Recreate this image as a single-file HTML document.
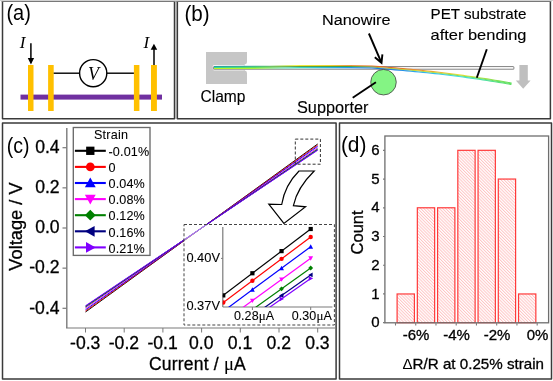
<!DOCTYPE html>
<html><head><meta charset="utf-8"><style>html,body{margin:0;padding:0;background:#fff;overflow:hidden;}svg{display:block;font-family:"Liberation Sans",sans-serif;will-change:transform;}text{stroke:#000;stroke-width:0.3px;}text.it{stroke:none;}text.lb{stroke:#fff;stroke-width:0.2px;}</style></head>
<body><svg width="553" height="381" viewBox="0 0 553 381"><rect x="0" y="0" width="553" height="381" fill="#fff"/>
<rect x="0" y="0" width="553" height="1" fill="#d2d2d2"/>
<rect x="175" y="1" width="2" height="118" fill="#e2e2e2"/>
<path d="M2.5,1 V118.8 H174.5 V1" fill="none" stroke="#3a3a3a" stroke-width="1.5" stroke-linejoin="round"/>
<rect x="1.75" y="1" width="173.5" height="1" fill="#787878"/>
<path d="M177.35,1 V118.8 H550.4 V1" fill="none" stroke="#3a3a3a" stroke-width="1.5" stroke-linejoin="round"/>
<rect x="176.6" y="1" width="374.54999999999995" height="1" fill="#787878"/>
<rect x="2.5" y="122.9" width="333.6" height="256.1" fill="none" stroke="#3a3a3a" stroke-width="1.5" stroke-linejoin="round"/>
<rect x="339.5" y="122.9" width="212.0" height="256.1" fill="none" stroke="#3a3a3a" stroke-width="1.5" stroke-linejoin="round"/>
<text x="6.4" y="19.6" font-family="Liberation Sans, sans-serif" class="it" font-size="22.5" textLength="24.4" lengthAdjust="spacingAndGlyphs" fill="#000">(a)</text>
<rect x="20.5" y="94.6" width="141.5" height="5" fill="#7030a0"/>
<rect x="28" y="65" width="5.5" height="46" fill="#ffc000"/>
<rect x="48.1" y="65" width="5.600000000000001" height="46" fill="#ffc000"/>
<rect x="133.9" y="65" width="5.5" height="46" fill="#ffc000"/>
<rect x="151" y="65" width="5.900000000000006" height="46" fill="#ffc000"/>
<line x1="53.7" y1="73.2" x2="79.5" y2="73.2" stroke="#000" stroke-width="1.4"/>
<line x1="107" y1="73.2" x2="133.9" y2="73.2" stroke="#000" stroke-width="1.4"/>
<circle cx="93.2" cy="73.2" r="13.6" fill="#fff" stroke="#000" stroke-width="1.4"/>
<text x="88" y="80" font-family="Liberation Serif, serif" class="it" font-style="italic" font-size="18" fill="#000">V</text>
<text x="19.8" y="48.2" font-family="Liberation Serif, serif" class="it" font-style="italic" font-size="17" fill="#000">I</text>
<text x="143.6" y="48.2" font-family="Liberation Serif, serif" class="it" font-style="italic" font-size="17" fill="#000">I</text>
<line x1="30.9" y1="43.3" x2="30.9" y2="59" stroke="#000" stroke-width="1.5"/>
<polygon points="27.8,58 34.1,58 30.95,64.6" fill="#000"/>
<line x1="154" y1="49" x2="154" y2="65" stroke="#000" stroke-width="1.5"/>
<polygon points="150.7,49.8 157.2,49.8 153.95,43.8" fill="#000"/>
<text x="184.4" y="20.5" font-family="Liberation Sans, sans-serif" class="it" font-size="22.5" textLength="25.2" lengthAdjust="spacingAndGlyphs" fill="#000">(b)</text>
<path d="M206,52 H247 V62.1 A2.5,2.5 0 0 1 244.6,64.6 V70.6 A2.5,2.5 0 0 1 247,73.1 V84 H206 Z" fill="#c6c6c6"/>
<rect x="212.8" y="64.9" width="32" height="5.6" rx="1.4" fill="#f4f4f4"/>
<rect x="213.4" y="66.4" width="300.6" height="2.9" rx="1.4" fill="#f6f6f6" stroke="#8c8c8c" stroke-width="1.05"/>
<polygon points="519.4,64.9 527.8,64.9 527.8,80.6 530.6,80.6 523.2,88.8 515.8,80.6 519.4,80.6" fill="#bfbfbf"/>
<defs>
<linearGradient id="wt" gradientUnits="userSpaceOnUse" x1="214" y1="0" x2="512" y2="0">
<stop offset="0" stop-color="#2aa0a0"/><stop offset="0.121" stop-color="#40a8a0"/><stop offset="0.174" stop-color="#58c080"/>
<stop offset="0.238" stop-color="#c0e040"/><stop offset="0.275" stop-color="#f0f040"/><stop offset="0.39" stop-color="#f0d030"/>
<stop offset="0.443" stop-color="#f0a040"/><stop offset="0.57" stop-color="#e86020"/><stop offset="0.69" stop-color="#f08830"/>
<stop offset="0.826" stop-color="#f0e030"/><stop offset="1" stop-color="#60e060"/></linearGradient>
<linearGradient id="wm" gradientUnits="userSpaceOnUse" x1="214" y1="0" x2="512" y2="0">
<stop offset="0" stop-color="#30d8a0"/><stop offset="0.121" stop-color="#40e070"/><stop offset="0.174" stop-color="#50e040"/>
<stop offset="0.275" stop-color="#60a040"/><stop offset="0.443" stop-color="#40a040"/><stop offset="0.57" stop-color="#a0c040"/>
<stop offset="0.69" stop-color="#d0e030"/><stop offset="0.826" stop-color="#80e050"/><stop offset="1" stop-color="#60e060"/></linearGradient>
<linearGradient id="wb" gradientUnits="userSpaceOnUse" x1="214" y1="0" x2="512" y2="0">
<stop offset="0" stop-color="#c0f020"/><stop offset="0.121" stop-color="#b0f030"/><stop offset="0.174" stop-color="#a0e870"/>
<stop offset="0.238" stop-color="#60e0c0"/><stop offset="0.275" stop-color="#40e0c0"/><stop offset="0.443" stop-color="#20a0f0"/>
<stop offset="0.57" stop-color="#2070e0"/><stop offset="0.69" stop-color="#30b0f0"/><stop offset="0.826" stop-color="#40e0e0"/>
<stop offset="1" stop-color="#60e060"/></linearGradient>
<pattern id="hatch" patternUnits="userSpaceOnUse" width="2.2" height="3" patternTransform="rotate(-45)">
<rect width="2.2" height="3" fill="#fff"/><rect width="0.95" height="3" fill="#ffc4c4"/></pattern>
</defs>
<path d="M 214.00 66.50 L 269.99 66.30 L 299.99 65.60 L 350.01 65.60 L 372.04 66.00 L 383.09 66.90 L 387.08 67.30 L 391.07 67.60 L 395.08 67.92 L 399.08 68.25 L 403.08 68.60 L 407.08 68.95 L 411.09 69.33 L 415.09 69.71 L 419.09 70.11 L 423.09 70.52 L 427.10 70.95 L 431.10 71.38 L 435.10 71.84 L 439.10 72.30 L 443.10 72.78 L 447.11 73.27 L 451.11 73.77 L 455.11 74.29 L 459.11 74.82 L 463.11 75.36 L 467.12 75.92 L 471.12 76.49 L 475.12 77.08 L 479.12 77.67 L 483.12 78.28 L 487.12 78.91 L 491.12 79.54 L 495.13 80.19 L 499.13 80.86 L 503.13 81.53 L 507.13 82.22 L 511.13 82.93 L 511.63 83.02" fill="none" stroke="url(#wt)" stroke-width="1.1" stroke-linejoin="round"/>
<path d="M 214.00 67.50 L 270.00 67.30 L 300.00 66.60 L 350.00 66.60 L 372.00 67.00 L 383.00 67.90 L 387.00 68.28 L 391.00 68.58 L 395.00 68.89 L 399.00 69.22 L 403.00 69.55 L 407.00 69.90 L 411.00 70.27 L 415.00 70.64 L 419.00 71.03 L 423.00 71.44 L 427.00 71.86 L 431.00 72.29 L 435.00 72.73 L 439.00 73.18 L 443.00 73.65 L 447.00 74.14 L 451.00 74.63 L 455.00 75.14 L 459.00 75.67 L 463.00 76.20 L 467.00 76.75 L 471.00 77.31 L 475.00 77.89 L 479.00 78.48 L 483.00 79.08 L 487.00 79.70 L 491.00 80.32 L 495.00 80.97 L 499.00 81.62 L 503.00 82.29 L 507.00 82.97 L 511.00 83.67 L 511.50 83.75" fill="none" stroke="url(#wm)" stroke-width="1.05" stroke-linejoin="round"/>
<path d="M 214.00 68.50 L 270.01 68.30 L 300.01 67.60 L 349.99 67.60 L 371.96 68.00 L 382.91 68.90 L 386.92 69.27 L 390.93 69.56 L 394.92 69.87 L 398.92 70.18 L 402.92 70.51 L 406.92 70.85 L 410.91 71.21 L 414.91 71.58 L 418.91 71.96 L 422.91 72.36 L 426.90 72.76 L 430.90 73.19 L 434.90 73.62 L 438.90 74.07 L 442.90 74.53 L 446.89 75.01 L 450.89 75.49 L 454.89 76.00 L 458.89 76.51 L 462.89 77.04 L 466.88 77.58 L 470.88 78.13 L 474.88 78.70 L 478.88 79.28 L 482.88 79.88 L 486.88 80.48 L 490.88 81.10 L 494.87 81.74 L 498.87 82.39 L 502.87 83.05 L 506.87 83.72 L 510.87 84.41 L 511.37 84.49" fill="none" stroke="url(#wb)" stroke-width="1.1" stroke-linejoin="round"/>
<circle cx="383.5" cy="82.2" r="12.75" fill="#84f484" stroke="#484848" stroke-width="0.85"/>
<line x1="368.9" y1="33.5" x2="381.3" y2="62.3" stroke="#000" stroke-width="1.9"/>
<polyline points="374.8,57.3 381.5,62.8 382.4,54.3" fill="none" stroke="#000" stroke-width="1.9"/>
<line x1="352.7" y1="97.7" x2="375.9" y2="82.2" stroke="#000" stroke-width="1.9"/>
<line x1="486.8" y1="49.2" x2="476.8" y2="77.8" stroke="#000" stroke-width="1.9"/>
<text x="322" y="25.3" font-family="Liberation Sans, sans-serif" style="stroke-width:0.12px" font-size="15.3" textLength="68.5" lengthAdjust="spacingAndGlyphs" fill="#000">Nanowire</text>
<text x="430.5" y="18.6" font-family="Liberation Sans, sans-serif" style="stroke-width:0.12px" font-size="15" textLength="96" lengthAdjust="spacingAndGlyphs" fill="#000">PET substrate</text>
<text x="430.5" y="39.7" font-family="Liberation Sans, sans-serif" style="stroke-width:0.12px" font-size="15" textLength="96" lengthAdjust="spacingAndGlyphs" fill="#000">after bending</text>
<text x="200.5" y="102.2" font-family="Liberation Sans, sans-serif" style="stroke-width:0.12px" font-size="16.5" textLength="45" lengthAdjust="spacingAndGlyphs" fill="#000">Clamp</text>
<text x="297" y="112.8" font-family="Liberation Sans, sans-serif" style="stroke-width:0.12px" font-size="16.2" textLength="71.5" lengthAdjust="spacingAndGlyphs" fill="#000">Supporter</text>
<text x="6.7" y="152.5" font-family="Liberation Sans, sans-serif" class="it" font-size="22.5" textLength="22.8" lengthAdjust="spacingAndGlyphs" fill="#000">(c)</text>
<line x1="66.8" y1="128" x2="66.8" y2="328" stroke="#7a7a7a" stroke-width="1.4"/>
<line x1="66" y1="328" x2="336" y2="328" stroke="#7a7a7a" stroke-width="1.2"/>
<line x1="62.5" y1="147.70" x2="66.5" y2="147.70" stroke="#7a7a7a" stroke-width="1.2"/>
<text x="59.6" y="153.00" font-family="Liberation Sans, sans-serif" font-size="17.6" text-anchor="end" fill="#000">0.4</text>
<line x1="62.5" y1="187.85" x2="66.5" y2="187.85" stroke="#7a7a7a" stroke-width="1.2"/>
<text x="59.6" y="193.15" font-family="Liberation Sans, sans-serif" font-size="17.6" text-anchor="end" fill="#000">0.2</text>
<line x1="62.5" y1="228.00" x2="66.5" y2="228.00" stroke="#7a7a7a" stroke-width="1.2"/>
<text x="59.6" y="233.30" font-family="Liberation Sans, sans-serif" font-size="17.6" text-anchor="end" fill="#000">0.0</text>
<line x1="62.5" y1="268.15" x2="66.5" y2="268.15" stroke="#7a7a7a" stroke-width="1.2"/>
<text x="59.6" y="273.45" font-family="Liberation Sans, sans-serif" font-size="17.6" text-anchor="end" fill="#000">-0.2</text>
<line x1="62.5" y1="308.30" x2="66.5" y2="308.30" stroke="#7a7a7a" stroke-width="1.2"/>
<text x="59.6" y="313.60" font-family="Liberation Sans, sans-serif" font-size="17.6" text-anchor="end" fill="#000">-0.4</text>
<line x1="85.50" y1="328" x2="85.50" y2="332.5" stroke="#7a7a7a" stroke-width="1"/>
<text x="85.20" y="349.2" font-family="Liberation Sans, sans-serif" font-size="17.6" text-anchor="middle" fill="#000">-0.3</text>
<line x1="124.20" y1="328" x2="124.20" y2="332.5" stroke="#7a7a7a" stroke-width="1"/>
<text x="123.90" y="349.2" font-family="Liberation Sans, sans-serif" font-size="17.6" text-anchor="middle" fill="#000">-0.2</text>
<line x1="162.90" y1="328" x2="162.90" y2="332.5" stroke="#7a7a7a" stroke-width="1"/>
<text x="162.60" y="349.2" font-family="Liberation Sans, sans-serif" font-size="17.6" text-anchor="middle" fill="#000">-0.1</text>
<line x1="201.60" y1="328" x2="201.60" y2="332.5" stroke="#7a7a7a" stroke-width="1"/>
<text x="201.30" y="349.2" font-family="Liberation Sans, sans-serif" font-size="17.6" text-anchor="middle" fill="#000">0.0</text>
<line x1="240.30" y1="328" x2="240.30" y2="332.5" stroke="#7a7a7a" stroke-width="1"/>
<text x="240.00" y="349.2" font-family="Liberation Sans, sans-serif" font-size="17.6" text-anchor="middle" fill="#000">0.1</text>
<line x1="279.00" y1="328" x2="279.00" y2="332.5" stroke="#7a7a7a" stroke-width="1"/>
<text x="278.70" y="349.2" font-family="Liberation Sans, sans-serif" font-size="17.6" text-anchor="middle" fill="#000">0.2</text>
<line x1="317.70" y1="328" x2="317.70" y2="332.5" stroke="#7a7a7a" stroke-width="1"/>
<text x="317.40" y="349.2" font-family="Liberation Sans, sans-serif" font-size="17.6" text-anchor="middle" fill="#000">0.3</text>
<text transform="translate(21.8,226.5) rotate(-90)" font-family="Liberation Sans, sans-serif" font-size="18.3" text-anchor="middle" fill="#000">Voltage / V</text>
<text x="149" y="369.6" font-family="Liberation Sans, sans-serif" font-size="17.5" letter-spacing="0.2" fill="#000">Current / <tspan font-family="Liberation Serif, serif" font-size="18.5" style="stroke-width:0.1px">μ</tspan>A</text>
<line x1="85.50" y1="312.02" x2="317.70" y2="143.98" stroke="#000000" stroke-width="0.95"/>
<line x1="85.50" y1="311.01" x2="317.70" y2="144.99" stroke="#ff0000" stroke-width="0.95"/>
<line x1="85.50" y1="309.78" x2="317.70" y2="146.22" stroke="#0000ff" stroke-width="0.95"/>
<line x1="85.50" y1="308.31" x2="317.70" y2="147.69" stroke="#ff00ff" stroke-width="0.95"/>
<line x1="85.50" y1="307.09" x2="317.70" y2="148.91" stroke="#008000" stroke-width="0.95"/>
<line x1="85.50" y1="306.21" x2="317.70" y2="149.79" stroke="#000080" stroke-width="0.95"/>
<line x1="85.50" y1="305.77" x2="317.70" y2="150.23" stroke="#8000ff" stroke-width="0.95"/>
<rect x="295.3" y="139.1" width="25.1" height="25.1" fill="none" stroke="#333" stroke-width="1" stroke-dasharray="3,2"/>
<path d="M 299,171 L 314.2,171 C 303,182 296,193 293.4,205.6 L 305.6,206.8 L 283.9,223.4 L 268.8,204.1 L 281.7,204.5 C 284,190 290,180 299,171 Z" fill="#fff" stroke="#000" stroke-width="1.2"/>
<rect x="73.3" y="127.5" width="76.7" height="127.9" fill="#fff" stroke="#6a6a6a" stroke-width="1.35"/>
<text x="94" y="139.3" font-family="Liberation Sans, sans-serif" style="stroke-width:0.08px" font-size="12.6" letter-spacing="0.2" fill="#000">Strain</text>
<line x1="74.9" y1="150.80" x2="105.8" y2="150.80" stroke="#000000" stroke-width="2.1"/>
<rect x="86.15" y="146.65" width="8.3" height="8.3" fill="#000000"/>
<text x="108.5" y="156.00" font-family="Liberation Sans, sans-serif" style="stroke-width:0.08px" font-size="12.6" letter-spacing="0.15" fill="#000">-0.01%</text>
<line x1="74.9" y1="166.90" x2="105.8" y2="166.90" stroke="#ff0000" stroke-width="2.1"/>
<circle cx="90.30" cy="166.90" r="4.36" fill="#ff0000"/>
<text x="108.5" y="172.10" font-family="Liberation Sans, sans-serif" style="stroke-width:0.08px" font-size="12.6" letter-spacing="0.15" fill="#000">0</text>
<line x1="74.9" y1="183.00" x2="105.8" y2="183.00" stroke="#0000ff" stroke-width="2.1"/>
<polygon points="90.30,177.59 95.70,187.32 84.89,187.32" fill="#0000ff"/>
<text x="108.5" y="188.20" font-family="Liberation Sans, sans-serif" style="stroke-width:0.08px" font-size="12.6" letter-spacing="0.15" fill="#000">0.04%</text>
<line x1="74.9" y1="199.10" x2="105.8" y2="199.10" stroke="#ff00ff" stroke-width="2.1"/>
<polygon points="90.30,204.51 95.70,194.78 84.89,194.78" fill="#ff00ff"/>
<text x="108.5" y="204.30" font-family="Liberation Sans, sans-serif" style="stroke-width:0.08px" font-size="12.6" letter-spacing="0.15" fill="#000">0.08%</text>
<line x1="74.9" y1="215.20" x2="105.8" y2="215.20" stroke="#008000" stroke-width="2.1"/>
<polygon points="90.30,209.80 95.70,215.20 90.30,220.61 84.89,215.20" fill="#008000"/>
<text x="108.5" y="220.40" font-family="Liberation Sans, sans-serif" style="stroke-width:0.08px" font-size="12.6" letter-spacing="0.15" fill="#000">0.12%</text>
<line x1="74.9" y1="231.30" x2="105.8" y2="231.30" stroke="#000080" stroke-width="2.1"/>
<polygon points="84.89,231.30 94.62,225.90 94.62,236.71" fill="#000080"/>
<text x="108.5" y="236.50" font-family="Liberation Sans, sans-serif" style="stroke-width:0.08px" font-size="12.6" letter-spacing="0.15" fill="#000">0.16%</text>
<line x1="74.9" y1="247.40" x2="105.8" y2="247.40" stroke="#8000ff" stroke-width="2.1"/>
<polygon points="95.70,247.40 85.98,242.00 85.98,252.81" fill="#8000ff"/>
<text x="108.5" y="252.60" font-family="Liberation Sans, sans-serif" style="stroke-width:0.08px" font-size="12.6" letter-spacing="0.15" fill="#000">0.21%</text>
<rect x="184" y="224.5" width="150.4" height="100.5" fill="#fff" fill-opacity="0.45" stroke="#444" stroke-width="1" stroke-dasharray="3,2"/>
<line x1="222.8" y1="227" x2="222.8" y2="307" stroke="#7a7a7a" stroke-width="1.2"/>
<line x1="222.8" y1="307" x2="332.4" y2="307" stroke="#7a7a7a" stroke-width="1.2"/>
<line x1="221" y1="258.40" x2="222.8" y2="258.40" stroke="#7a7a7a" stroke-width="1"/>
<line x1="252.40" y1="307" x2="252.40" y2="310" stroke="#7a7a7a" stroke-width="1"/>
<line x1="310.70" y1="307" x2="310.70" y2="310" stroke="#7a7a7a" stroke-width="1"/>
<defs><clipPath id="ic"><rect x="222.8" y="220" width="120" height="87"/></clipPath></defs>
<g clip-path="url(#ic)">
<line x1="208.68" y1="306.44" x2="310.70" y2="229.00" stroke="#000000" stroke-width="1.2"/>
<rect x="221.15" y="293.28" width="4.2" height="4.2" fill="#000000"/>
<rect x="250.30" y="271.15" width="4.2" height="4.2" fill="#000000"/>
<rect x="279.45" y="249.02" width="4.2" height="4.2" fill="#000000"/>
<rect x="308.60" y="226.90" width="4.2" height="4.2" fill="#000000"/>
<line x1="208.68" y1="313.51" x2="310.70" y2="237.00" stroke="#ff0000" stroke-width="1.2"/>
<circle cx="223.25" cy="302.58" r="2.21" fill="#ff0000"/>
<circle cx="252.40" cy="280.72" r="2.21" fill="#ff0000"/>
<circle cx="281.55" cy="258.86" r="2.21" fill="#ff0000"/>
<circle cx="310.70" cy="237.00" r="2.21" fill="#ff0000"/>
<line x1="208.68" y1="322.07" x2="310.70" y2="246.70" stroke="#0000ff" stroke-width="1.2"/>
<polygon points="223.25,308.89 225.67,313.24 220.84,313.24" fill="#0000ff"/>
<polygon points="252.40,287.35 254.82,291.70 249.99,291.70" fill="#0000ff"/>
<polygon points="281.55,265.82 283.96,270.16 279.13,270.16" fill="#0000ff"/>
<polygon points="310.70,244.28 313.12,248.63 308.28,248.63" fill="#0000ff"/>
<line x1="208.68" y1="332.33" x2="310.70" y2="258.30" stroke="#ff00ff" stroke-width="1.2"/>
<polygon points="223.25,324.17 225.67,319.82 220.84,319.82" fill="#ff00ff"/>
<polygon points="252.40,303.02 254.82,298.67 249.99,298.67" fill="#ff00ff"/>
<polygon points="281.55,281.87 283.96,277.52 279.13,277.52" fill="#ff00ff"/>
<polygon points="310.70,260.72 313.12,256.37 308.28,256.37" fill="#ff00ff"/>
<line x1="208.68" y1="340.89" x2="310.70" y2="268.00" stroke="#008000" stroke-width="1.2"/>
<polygon points="223.25,328.06 225.67,330.48 223.25,332.89 220.84,330.48" fill="#008000"/>
<polygon points="252.40,307.23 254.82,309.65 252.40,312.06 249.99,309.65" fill="#008000"/>
<polygon points="281.55,286.41 283.96,288.82 281.55,291.24 279.13,288.82" fill="#008000"/>
<polygon points="310.70,265.58 313.12,268.00 310.70,270.41 308.28,268.00" fill="#008000"/>
<line x1="208.68" y1="346.98" x2="310.70" y2="274.89" stroke="#000080" stroke-width="1.2"/>
<polygon points="220.84,336.68 225.18,334.27 225.18,339.10" fill="#000080"/>
<polygon points="249.99,316.09 254.33,313.67 254.33,318.50" fill="#000080"/>
<polygon points="279.13,295.49 283.48,293.08 283.48,297.91" fill="#000080"/>
<polygon points="308.28,274.89 312.63,272.48 312.63,277.31" fill="#000080"/>
<line x1="208.68" y1="350.08" x2="310.70" y2="278.40" stroke="#8000ff" stroke-width="1.2"/>
<polygon points="225.67,339.84 221.32,337.42 221.32,342.25" fill="#8000ff"/>
<polygon points="254.82,319.36 250.47,316.94 250.47,321.77" fill="#8000ff"/>
<polygon points="283.96,298.88 279.62,296.46 279.62,301.29" fill="#8000ff"/>
<polygon points="313.12,278.40 308.77,275.98 308.77,280.81" fill="#8000ff"/>
</g>
<text x="186.4" y="262.4" font-family="Liberation Sans, sans-serif" style="stroke-width:0.08px" font-size="12.5" textLength="33.6" lengthAdjust="spacingAndGlyphs" fill="#000">0.40V</text>
<text x="186.4" y="310.2" font-family="Liberation Sans, sans-serif" style="stroke-width:0.08px" font-size="12.5" textLength="33.6" lengthAdjust="spacingAndGlyphs" fill="#000">0.37V</text>
<text x="234" y="319.9" font-family="Liberation Sans, sans-serif" style="stroke-width:0.08px" font-size="12.5" letter-spacing="0.1" fill="#000">0.28<tspan font-family="Liberation Serif, serif" font-size="13" style="stroke-width:0.1px">μ</tspan>A</text>
<text x="291.7" y="319.9" font-family="Liberation Sans, sans-serif" style="stroke-width:0.08px" font-size="12.5" letter-spacing="0.1" fill="#000">0.30<tspan font-family="Liberation Serif, serif" font-size="13" style="stroke-width:0.1px">μ</tspan>A</text>
<text x="340.9" y="152.3" font-family="Liberation Sans, sans-serif" class="it" font-size="22.5" textLength="25.6" lengthAdjust="spacingAndGlyphs" fill="#000">(d)</text>
<rect x="397.10" y="293.97" width="17.30" height="28.73" fill="url(#hatch)" stroke="#ff3a3a" stroke-width="1.2"/>
<rect x="417.34" y="207.78" width="17.30" height="114.92" fill="url(#hatch)" stroke="#ff3a3a" stroke-width="1.2"/>
<rect x="437.58" y="207.78" width="17.30" height="114.92" fill="url(#hatch)" stroke="#ff3a3a" stroke-width="1.2"/>
<rect x="457.82" y="150.32" width="17.30" height="172.38" fill="url(#hatch)" stroke="#ff3a3a" stroke-width="1.2"/>
<rect x="478.06" y="150.32" width="17.30" height="172.38" fill="url(#hatch)" stroke="#ff3a3a" stroke-width="1.2"/>
<rect x="498.30" y="179.05" width="17.30" height="143.65" fill="url(#hatch)" stroke="#ff3a3a" stroke-width="1.2"/>
<rect x="518.54" y="293.97" width="17.30" height="28.73" fill="url(#hatch)" stroke="#ff3a3a" stroke-width="1.2"/>
<rect x="384.9" y="136" width="163.7" height="186.8" fill="none" stroke="#6e6e6e" stroke-width="1.3"/>
<line x1="383" y1="322.70" x2="385" y2="322.70" stroke="#7a7a7a" stroke-width="1.2"/>
<text x="379.5" y="327.30" font-family="Liberation Sans, sans-serif" font-size="15" text-anchor="end" fill="#000">0</text>
<line x1="383" y1="293.97" x2="385" y2="293.97" stroke="#7a7a7a" stroke-width="1.2"/>
<text x="379.5" y="298.57" font-family="Liberation Sans, sans-serif" font-size="15" text-anchor="end" fill="#000">1</text>
<line x1="383" y1="265.24" x2="385" y2="265.24" stroke="#7a7a7a" stroke-width="1.2"/>
<text x="379.5" y="269.84" font-family="Liberation Sans, sans-serif" font-size="15" text-anchor="end" fill="#000">2</text>
<line x1="383" y1="236.51" x2="385" y2="236.51" stroke="#7a7a7a" stroke-width="1.2"/>
<text x="379.5" y="241.11" font-family="Liberation Sans, sans-serif" font-size="15" text-anchor="end" fill="#000">3</text>
<line x1="383" y1="207.78" x2="385" y2="207.78" stroke="#7a7a7a" stroke-width="1.2"/>
<text x="379.5" y="212.38" font-family="Liberation Sans, sans-serif" font-size="15" text-anchor="end" fill="#000">4</text>
<line x1="383" y1="179.05" x2="385" y2="179.05" stroke="#7a7a7a" stroke-width="1.2"/>
<text x="379.5" y="183.65" font-family="Liberation Sans, sans-serif" font-size="15" text-anchor="end" fill="#000">5</text>
<line x1="383" y1="150.32" x2="385" y2="150.32" stroke="#7a7a7a" stroke-width="1.2"/>
<text x="379.5" y="154.92" font-family="Liberation Sans, sans-serif" font-size="15" text-anchor="end" fill="#000">6</text>
<line x1="395.50" y1="323" x2="395.50" y2="325.5" stroke="#7a7a7a" stroke-width="1.1"/>
<line x1="415.74" y1="323" x2="415.74" y2="325.5" stroke="#7a7a7a" stroke-width="1.1"/>
<line x1="435.98" y1="323" x2="435.98" y2="325.5" stroke="#7a7a7a" stroke-width="1.1"/>
<line x1="456.22" y1="323" x2="456.22" y2="325.5" stroke="#7a7a7a" stroke-width="1.1"/>
<line x1="476.46" y1="323" x2="476.46" y2="325.5" stroke="#7a7a7a" stroke-width="1.1"/>
<line x1="496.70" y1="323" x2="496.70" y2="325.5" stroke="#7a7a7a" stroke-width="1.1"/>
<line x1="516.94" y1="323" x2="516.94" y2="325.5" stroke="#7a7a7a" stroke-width="1.1"/>
<line x1="537.18" y1="323" x2="537.18" y2="325.5" stroke="#7a7a7a" stroke-width="1.1"/>
<text x="416.04" y="339.8" font-family="Liberation Sans, sans-serif" font-size="15" text-anchor="middle" fill="#000">-6%</text>
<text x="456.52" y="339.8" font-family="Liberation Sans, sans-serif" font-size="15" text-anchor="middle" fill="#000">-4%</text>
<text x="497.00" y="339.8" font-family="Liberation Sans, sans-serif" font-size="15" text-anchor="middle" fill="#000">-2%</text>
<text x="537.48" y="339.8" font-family="Liberation Sans, sans-serif" font-size="15" text-anchor="middle" fill="#000">0%</text>
<text transform="translate(362.7,232.4) rotate(-90)" font-family="Liberation Sans, sans-serif" font-size="16.5" text-anchor="middle" fill="#000">Count</text>
<text x="402.5" y="369.3" font-family="Liberation Sans, sans-serif" font-size="15" textLength="141.5" lengthAdjust="spacingAndGlyphs" fill="#000"><tspan style="stroke-width:0px">Δ</tspan>R/R at 0.25% strain</text></svg></body></html>
